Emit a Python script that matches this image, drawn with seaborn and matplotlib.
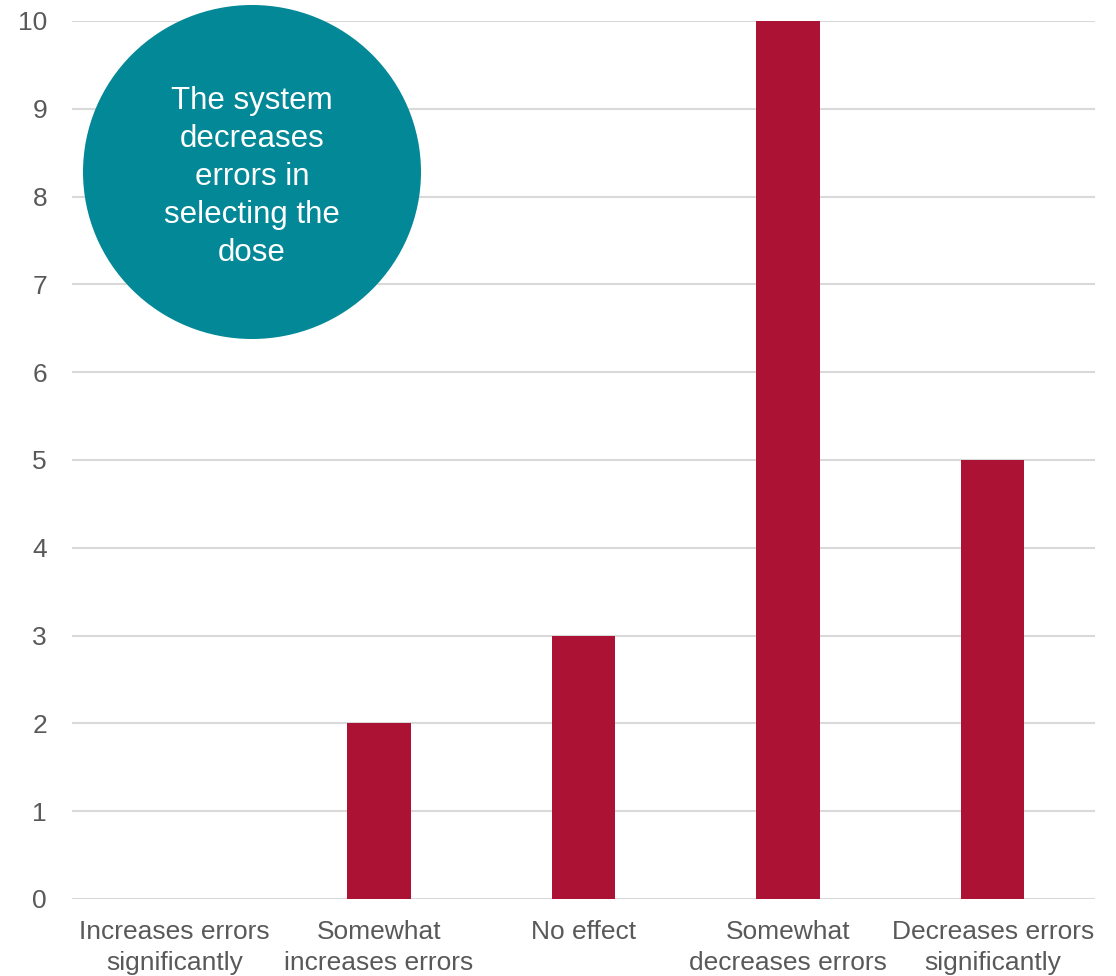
import matplotlib
matplotlib.use("Agg")
import matplotlib.pyplot as plt
import seaborn as sns
import pandas as pd
from matplotlib.patches import Ellipse

categories = ["Increases errors\nsignificantly", "Somewhat\nincreases errors", "No effect",
              "Somewhat\ndecreases errors", "Decreases errors\nsignificantly"]
values = [0, 2, 3, 10, 5]
yticks = [0, 1, 2, 3, 4, 5, 6, 7, 8, 9, 10]
bubble_text = "The system\ndecreases\nerrors in\nselecting the\ndose"

sns.set_theme(style="white")
plt.rcParams['font.family'] = ['Liberation Sans', 'DejaVu Sans']

df = pd.DataFrame({"category": categories, "value": values})

fig = plt.figure(figsize=(11.16, 9.76), dpi=100)
ax = fig.add_axes([72/1116, 1-899/976, (1095-72)/1116, (899-21)/976])

sns.barplot(data=df, x="category", y="value", color="#AB1233", width=0.31,
            saturation=1, ax=ax, zorder=3, linewidth=0)

ax.set_ylim(0, 10)
ax.set_xlim(-0.5, 4.5)
ax.set_yticks(yticks)
ax.yaxis.grid(True, color="#D9D9D9", linewidth=1.5, zorder=0)
ax.set_axisbelow(True)
for s in ax.spines.values():
    s.set_visible(False)
ax.set_xlabel("")
ax.set_ylabel("")
ax.tick_params(axis="y", length=0, pad=18, labelsize=19, labelcolor="#595959")
ax.tick_params(axis="x", length=0, pad=15, labelsize=19, labelcolor="#595959")
for lbl in ax.get_xticklabels():
    lbl.set_linespacing(1.4)

circ = Ellipse((252/1116, 1-172/976), 338/1116, 334/976, transform=fig.transFigure,
               facecolor="#028896", edgecolor="none", zorder=10)
fig.add_artist(circ)
fig.text(252/1116, 1-177/976, bubble_text, ha="center", va="center", color="white",
         fontsize=22.5, linespacing=1.35, zorder=11)

fig.savefig("out.png", dpi=100)
